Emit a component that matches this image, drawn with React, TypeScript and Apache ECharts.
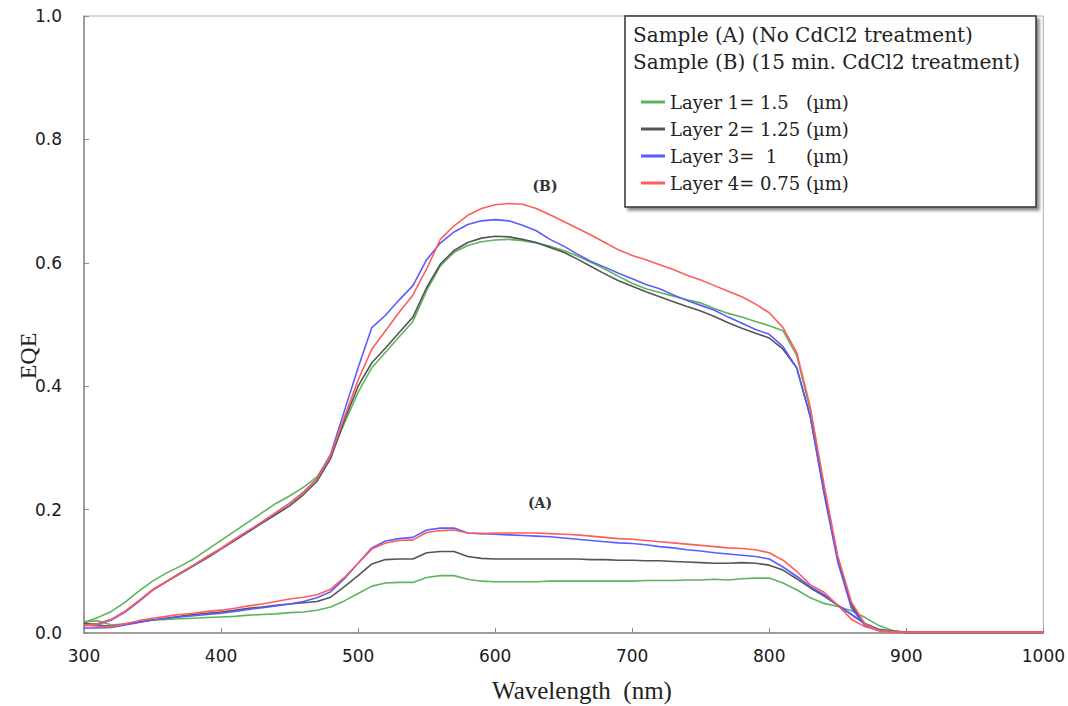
import React, { useEffect, useRef } from "react";
import * as echarts from "echarts";

const wavelengths = [
  300, 310, 320, 330, 340, 350, 360, 370, 380, 390,
  400, 410, 420, 430, 440, 450, 460, 470, 480, 490,
  500, 510, 520, 530, 540, 550, 560, 570, 580, 590,
  600, 610, 620, 630, 640, 650, 660, 670, 680, 690,
  700, 710, 720, 730, 740, 750, 760, 770, 780, 790,
  800, 810, 820, 830, 840, 850, 860, 870, 880, 890, 900, 950, 1000,
];

const layerNames = ["Layer 1= 1.5", "Layer 2= 1.25", "Layer 3=  1", "Layer 4= 0.75"];
const layerColors = ["#5fb35f", "#555555", "#5b5bff", "#ff5c5c"];

// Sample (B): 15 min CdCl2 treatment
const layer1B = [
  0.017, 0.025, 0.035, 0.05, 0.068, 0.084, 0.097, 0.108, 0.12, 0.135,
  0.15, 0.165, 0.18, 0.195, 0.21, 0.222, 0.236, 0.253, 0.288, 0.34,
  0.39, 0.43, 0.455, 0.48, 0.505, 0.555, 0.595, 0.617, 0.628, 0.634,
  0.637, 0.638, 0.636, 0.632, 0.627, 0.62, 0.611, 0.601, 0.59, 0.578,
  0.567, 0.558, 0.552, 0.546, 0.54, 0.535, 0.526, 0.518, 0.512, 0.505,
  0.498, 0.49, 0.45, 0.36, 0.235, 0.12, 0.045, 0.013, 0.004, 0.002, 0.001, 0.001, 0.001,
];
const layer2B = [
  0.013, 0.015, 0.022, 0.035, 0.052, 0.07, 0.083, 0.096, 0.109, 0.122,
  0.136, 0.15, 0.164, 0.178, 0.192, 0.206, 0.224, 0.246, 0.283, 0.345,
  0.4, 0.438, 0.462, 0.487, 0.512, 0.56, 0.598, 0.62, 0.633, 0.64,
  0.643, 0.642, 0.638, 0.633, 0.625, 0.617, 0.606, 0.594, 0.582, 0.571,
  0.562, 0.553, 0.545, 0.537, 0.529, 0.522, 0.513, 0.503, 0.494, 0.486,
  0.478, 0.46, 0.43, 0.35, 0.23, 0.12, 0.045, 0.012, 0.004, 0.002, 0.001, 0.001, 0.001,
];
const layer3B = [
  0.012, 0.014, 0.021, 0.034, 0.051, 0.069, 0.083, 0.097, 0.11, 0.124,
  0.137, 0.152, 0.166, 0.18, 0.195, 0.21, 0.228, 0.25, 0.29, 0.36,
  0.43, 0.495, 0.515, 0.54, 0.563, 0.605, 0.632, 0.65, 0.662, 0.668,
  0.67, 0.668, 0.661, 0.652, 0.638, 0.627, 0.614, 0.602, 0.593, 0.583,
  0.574, 0.565, 0.558, 0.548, 0.539, 0.531, 0.523, 0.512, 0.502, 0.492,
  0.484, 0.464, 0.43, 0.35, 0.225, 0.115, 0.04, 0.012, 0.004, 0.002, 0.001, 0.001, 0.001,
];
const layer4B = [
  0.013, 0.015, 0.022, 0.035, 0.052, 0.07, 0.083, 0.097, 0.11, 0.124,
  0.137, 0.152, 0.166, 0.18, 0.195, 0.21, 0.228, 0.25, 0.288, 0.35,
  0.41, 0.46, 0.49, 0.52, 0.548, 0.59, 0.638, 0.66, 0.677, 0.688,
  0.694, 0.696, 0.695, 0.688, 0.678, 0.667, 0.656, 0.645, 0.633, 0.621,
  0.612, 0.605, 0.597, 0.589, 0.58, 0.572, 0.563, 0.554, 0.545, 0.533,
  0.519, 0.495, 0.455, 0.365, 0.24, 0.125, 0.05, 0.014, 0.004, 0.002, 0.001, 0.001, 0.001,
];

// Sample (A): no CdCl2 treatment
const layer1A = [
  0.018, 0.02, 0.013, 0.015, 0.018, 0.021, 0.022, 0.023, 0.024, 0.025,
  0.026, 0.027, 0.029, 0.03, 0.031, 0.033, 0.034, 0.037, 0.042, 0.052,
  0.064, 0.076, 0.081, 0.082, 0.082, 0.09, 0.093, 0.093, 0.087, 0.084,
  0.083, 0.083, 0.083, 0.083, 0.084, 0.084, 0.084, 0.084, 0.084, 0.084,
  0.084, 0.085, 0.085, 0.085, 0.086, 0.086, 0.087, 0.086, 0.088, 0.089,
  0.089, 0.081, 0.07, 0.057, 0.048, 0.043, 0.036, 0.025, 0.012, 0.004, 0.001, 0.001, 0.001,
];
const layer2A = [
  0.016, 0.013, 0.011, 0.014, 0.018, 0.021, 0.024, 0.027, 0.03, 0.032,
  0.034, 0.037, 0.04, 0.042, 0.045, 0.047, 0.049, 0.051, 0.058, 0.075,
  0.093, 0.112, 0.119, 0.12, 0.12, 0.13, 0.132, 0.132, 0.124, 0.121,
  0.12, 0.12, 0.12, 0.12, 0.12, 0.12, 0.12, 0.119, 0.119, 0.118,
  0.118, 0.117, 0.117, 0.116, 0.115, 0.114, 0.113, 0.113, 0.114, 0.113,
  0.11, 0.102, 0.088, 0.073, 0.06, 0.045, 0.03, 0.015, 0.006, 0.003, 0.001, 0.001, 0.001,
];
const layer3A = [
  0.008, 0.008, 0.009, 0.013, 0.017, 0.021, 0.024, 0.026, 0.028, 0.03,
  0.032, 0.035, 0.038, 0.041, 0.044, 0.047, 0.051, 0.057, 0.067, 0.088,
  0.113, 0.138, 0.149, 0.153, 0.155, 0.167, 0.17, 0.17, 0.162, 0.161,
  0.16, 0.159, 0.158, 0.157, 0.156, 0.154, 0.152, 0.15, 0.148, 0.146,
  0.145, 0.143, 0.14, 0.138, 0.135, 0.133, 0.13, 0.128, 0.126, 0.124,
  0.12, 0.107, 0.092, 0.075, 0.062, 0.045, 0.03, 0.015, 0.005, 0.002, 0.001, 0.001, 0.001,
];
const layer4A = [
  0.013, 0.011, 0.01, 0.015, 0.02, 0.024, 0.027, 0.03, 0.032, 0.035,
  0.037, 0.04, 0.044, 0.047, 0.051, 0.055, 0.058, 0.062, 0.071, 0.09,
  0.113, 0.136, 0.146, 0.15, 0.151, 0.163, 0.166, 0.167, 0.162, 0.161,
  0.162, 0.162, 0.162, 0.162, 0.161, 0.16, 0.159, 0.157, 0.155, 0.153,
  0.152, 0.15, 0.148, 0.146, 0.144, 0.142, 0.14, 0.138, 0.137, 0.135,
  0.13, 0.118, 0.1, 0.078, 0.066, 0.045, 0.022, 0.01, 0.004, 0.001, 0.001, 0.001, 0.001,
];

const xTicks = { min: 300, max: 1000, interval: 100 };
const yTicks = { min: 0, max: 1, interval: 0.2 };

const seriesA = [layer1A, layer2A, layer3A, layer4A];
const seriesB = [layer1B, layer2B, layer3B, layer4B];

const serifFont = '"DejaVu Serif", serif';

export default function App() {
  const ref = useRef<HTMLDivElement>(null);

  useEffect(() => {
    document.body.style.margin = "0";
    const chart = echarts.init(ref.current!, null, { renderer: "svg" });

    const mkSeries = (vals: number[], i: number) => ({
      type: "line",
      name: layerNames[i],
      data: wavelengths.map((w, k) => [w, vals[k]]),
      showSymbol: false,
      symbol: "none",
      lineStyle: { color: layerColors[i], width: 1.6 },
      itemStyle: { color: layerColors[i] },
      z: 2 + i,
    });

    const series: any[] = [];
    seriesA.forEach((v, i) => series.push(mkSeries(v, i)));
    seriesB.forEach((v, i) => series.push(mkSeries(v, i)));

    chart.setOption({
      animation: false,
      backgroundColor: "#ffffff",
      grid: {
        left: 84,
        right: 23,
        top: 16,
        bottom: 73,
        show: true,
        borderColor: "#b0b0b0",
        borderWidth: 1,
        backgroundColor: "transparent",
      },
      xAxis: {
        type: "value",
        min: xTicks.min,
        max: xTicks.max,
        interval: xTicks.interval,
        axisLine: { show: true, lineStyle: { color: "#8a8a8a", width: 1.5 } },
        axisTick: { show: true, inside: true, length: 5, lineStyle: { color: "#8a8a8a" } },
        splitLine: { show: false },
        axisLabel: {
          fontFamily: '"DejaVu Sans", sans-serif',
          fontSize: 17,
          color: "#1a1a1a",
          margin: 14,
          formatter: (v: number) => String(v),
        },
      },
      yAxis: {
        type: "value",
        min: yTicks.min,
        max: yTicks.max,
        interval: yTicks.interval,
        axisLine: { show: true, lineStyle: { color: "#8a8a8a", width: 1.5 } },
        axisTick: { show: true, inside: true, length: 5, lineStyle: { color: "#8a8a8a" } },
        splitLine: { show: false },
        axisLabel: {
          fontFamily: '"DejaVu Sans", sans-serif',
          fontSize: 17,
          color: "#1a1a1a",
          margin: 22,
          formatter: (v: number) => v.toFixed(1),
        },
      },
      legend: {
        data: layerNames,
        orient: "vertical",
        left: 636,
        top: 88,
        itemWidth: 24,
        itemHeight: 3,
        itemGap: 9,
        icon: "rect",
        z: 10,
        formatter: (name: string) => `{a|${name}}{b|(µm)}`,
        textStyle: {
          fontFamily: serifFont,
          fontSize: 18,
          color: "#222",
          rich: {
            a: { width: 136, fontFamily: serifFont, fontSize: 18, color: "#222" },
            b: { fontFamily: serifFont, fontSize: 18, color: "#222" },
          },
        },
      },
      graphic: [
        {
          type: "rect",
          z: 5,
          shape: { x: 625, y: 16, width: 411, height: 191 },
          style: {
            fill: "#ffffff",
            stroke: "#333333",
            lineWidth: 1.5,
            shadowBlur: 3,
            shadowOffsetX: 3,
            shadowOffsetY: 3,
            shadowColor: "rgba(0,0,0,0.45)",
          },
        },
        {
          type: "text",
          z: 11,
          style: {
            text: "Sample (A) (No CdCl2 treatment)",
            x: 633,
            y: 35,
            font: `20px ${serifFont}`,
            fill: "#222",
            textAlign: "left",
            textVerticalAlign: "middle",
            verticalAlign: "middle",
          },
        },
        {
          type: "text",
          z: 11,
          style: {
            text: "Sample (B) (15 min. CdCl2 treatment)",
            x: 633,
            y: 62,
            font: `20px ${serifFont}`,
            fill: "#222",
            textAlign: "left",
            textVerticalAlign: "middle",
            verticalAlign: "middle",
          },
        },
        {
          type: "text",
          z: 11,
          style: {
            text: "(B)",
            x: 545,
            y: 186,
            font: `bold 14px ${serifFont}`,
            fill: "#333",
            textAlign: "center",
            textVerticalAlign: "middle",
            verticalAlign: "middle",
          },
        },
        {
          type: "text",
          z: 11,
          style: {
            text: "(A)",
            x: 540,
            y: 503,
            font: `bold 14px ${serifFont}`,
            fill: "#333",
            textAlign: "center",
            textVerticalAlign: "middle",
            verticalAlign: "middle",
          },
        },
        {
          type: "text",
          z: 11,
          style: {
            text: "Wavelength  (nm)",
            x: 582,
            y: 690,
            font: '25px "Liberation Serif", serif',
            fill: "#222",
            textAlign: "center",
            textVerticalAlign: "middle",
            verticalAlign: "middle",
          },
        },
        {
          type: "text",
          z: 11,
          x: 28,
          y: 356,
          rotation: Math.PI / 2,
          style: {
            text: "EQE",
            x: 0,
            y: 0,
            font: '24px "Liberation Serif", serif',
            fill: "#222",
            textAlign: "center",
            textVerticalAlign: "middle",
            verticalAlign: "middle",
          },
        },
      ],
      series,
    });

    return () => chart.dispose();
  }, []);

  return <div ref={ref} style={{ width: 1068, height: 706, background: "#fff" }} />;
}
